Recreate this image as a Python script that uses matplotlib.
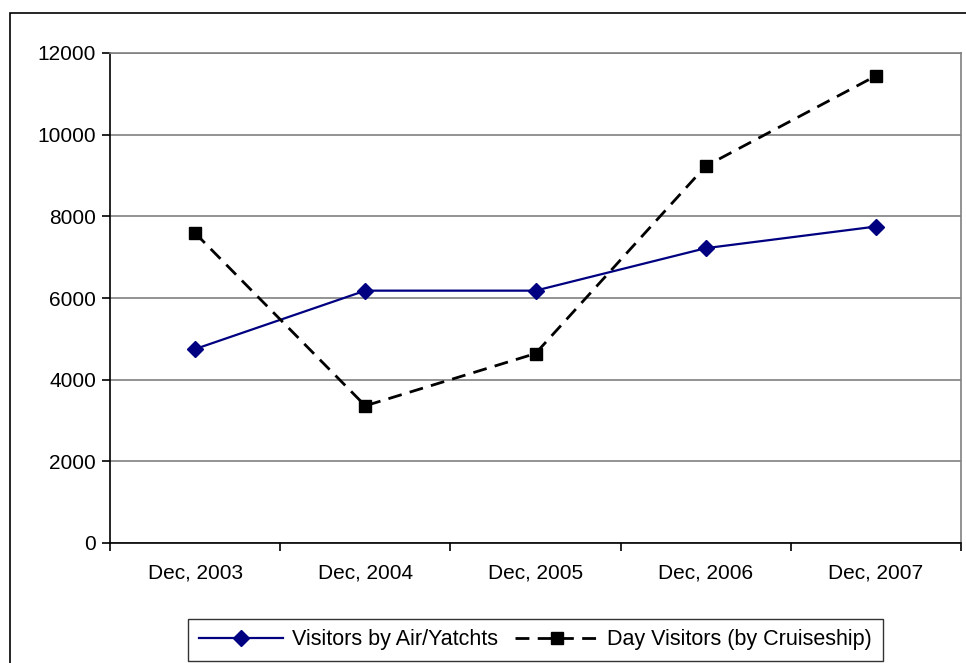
import matplotlib
matplotlib.use("Agg")
import matplotlib.pyplot as plt
from matplotlib.patches import Rectangle

plt.rcParams['font.family'] = ['Liberation Sans', 'DejaVu Sans']

categories = ["Dec, 2003", "Dec, 2004", "Dec, 2005", "Dec, 2006", "Dec, 2007"]
air_yachts = [4750, 6180, 6180, 7220, 7750]
cruiseship = [7590, 3360, 4640, 9230, 11440]
y_ticks = [0, 2000, 4000, 6000, 8000, 10000, 12000]

W, H = 966, 663
fig = plt.figure(figsize=(W / 100, H / 100), dpi=100)
ax = fig.add_axes([110 / W, 1 - 543 / H, (961 - 110) / W, (543 - 53) / H])

# outer chart border (runs off the right and bottom edges)
fig.patches.append(Rectangle((10 / W, -0.05), 1.2, 1 - 13 / H + 0.05,
                             transform=fig.transFigure, fill=False,
                             edgecolor='black', linewidth=1.2))

x = list(range(len(categories)))
ax.plot(x, air_yachts, color='#000080', linewidth=1.6, marker='D',
        markersize=8, label='Visitors by Air/Yatchts')
ax.plot(x, cruiseship, color='black', linewidth=2, linestyle=(0, (5, 3)),
        marker='s', markersize=8, label='Day Visitors (by Cruiseship)')

ax.set_xlim(-0.5, len(categories) - 0.5)
ax.set_ylim(0, 12000)
ax.set_yticks(y_ticks)
ax.set_yticklabels([str(v) for v in y_ticks], fontsize=15)
ax.set_xticks(x)
ax.set_xticklabels(categories, fontsize=15)
ax.set_xticks([i - 0.5 for i in range(len(categories) + 1)], minor=True)
ax.tick_params(axis='x', which='major', length=0, pad=15)
ax.tick_params(axis='x', which='minor', length=6, width=1.2, direction='out')
ax.tick_params(axis='y', length=6, width=1.2, direction='out', pad=4)

ax.grid(axis='y', color='#808080', linewidth=1.2)
ax.set_axisbelow(True)
for side in ['top', 'right']:
    ax.spines[side].set_color('#808080')
    ax.spines[side].set_linewidth(1.2)
for side in ['left', 'bottom']:
    ax.spines[side].set_color('black')
    ax.spines[side].set_linewidth(1.2)

leg = ax.legend(loc='center', bbox_to_anchor=(0.5, (543 - 640) / (543 - 53)),
                ncol=2, fontsize=15.5, frameon=True, fancybox=False,
                edgecolor='black', handlelength=3.9, handletextpad=0.4,
                columnspacing=0.8, borderpad=0.5, borderaxespad=0)
leg.get_frame().set_linewidth(1.0)

fig.savefig("out.png", dpi=100)
